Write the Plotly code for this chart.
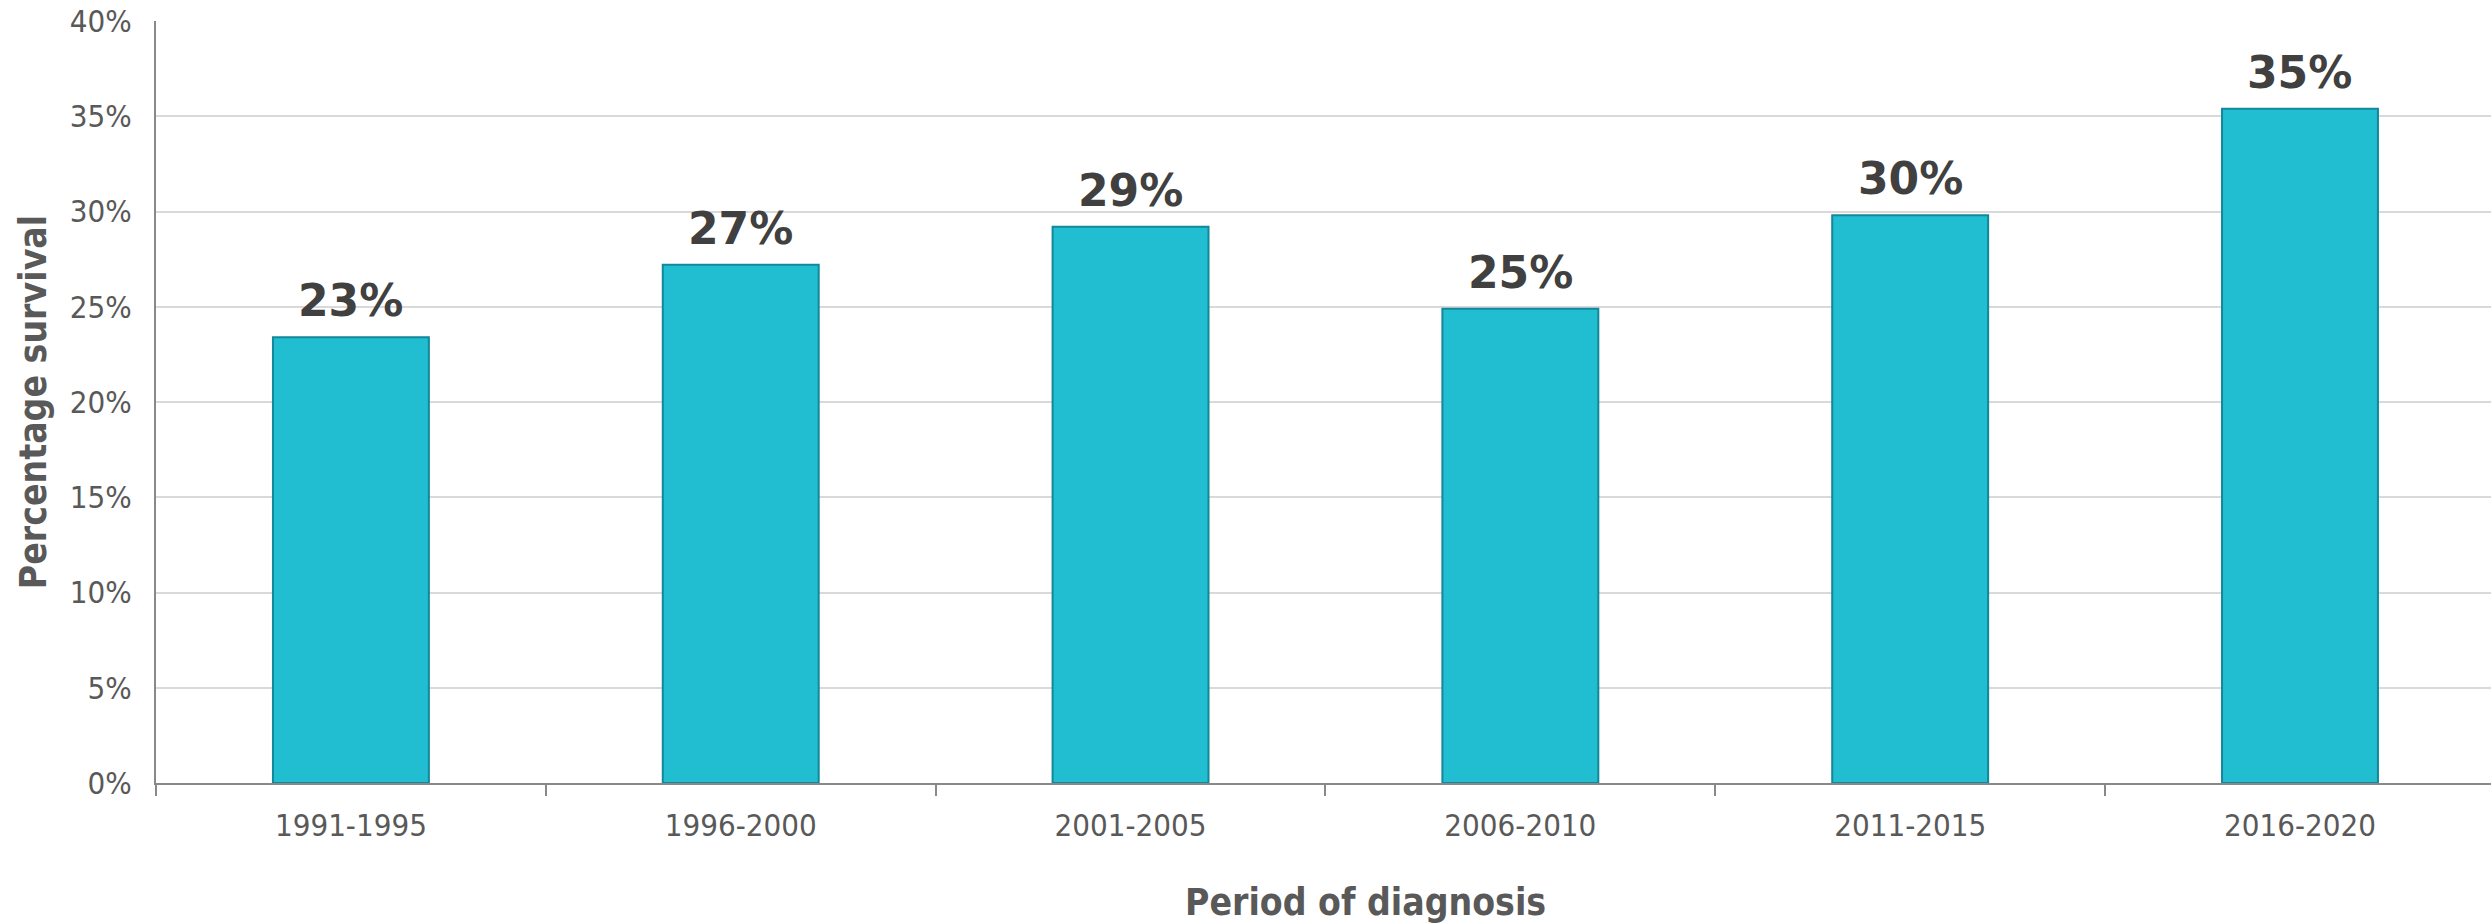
import plotly.graph_objects as go

periods = ["1991-1995", "1996-2000", "2001-2005", "2006-2010", "2011-2015", "2016-2020"]
survival = [23.4, 27.2, 29.2, 24.9, 29.8, 35.4]
labels = ["23%", "27%", "29%", "25%", "30%", "35%"]
y_ticks = [0, 5, 10, 15, 20, 25, 30, 35, 40]
y_tick_text = ["0%", "5%", "10%", "15%", "20%", "25%", "30%", "35%", "40%"]

fig = go.Figure()
fig.add_trace(go.Bar(
    x=periods, y=survival, width=0.4,
    marker=dict(color="#21BDD0", line=dict(color="#12889A", width=2)),
    hoverinfo="skip",
))

for p, v, t in zip(periods, survival, labels):
    fig.add_annotation(x=p, y=v, text=t, showarrow=False, yanchor="bottom", yshift=9,
                       font=dict(family="DejaVu Sans", size=44, color="#404040", weight="bold"))

fig.add_annotation(xref="paper", yref="paper", x=0.518, y=0, yanchor="middle", yshift=-119,
                   text="Period of diagnosis", showarrow=False,
                   font=dict(family="DejaVu Sans Condensed", size=37, color="#595959", weight="bold"))

fig.update_layout(
    width=2491, height=924,
    margin=dict(l=156, r=0, t=21, b=141),
    paper_bgcolor="white", plot_bgcolor="white",
    showlegend=False,
    xaxis=dict(
        type="category", range=[-0.5, 5.49],
        showline=True, linecolor="#898989", linewidth=2,
        ticks="outside", tickson="boundaries", ticklen=11, tickcolor="#898989", tickwidth=2,
        tickfont=dict(family="DejaVu Sans Condensed", size=31, color="#595959"),
        ticklabelstandoff=14,
        showgrid=False,
    ),
    yaxis=dict(
        range=[0, 40],
        tickvals=y_ticks, ticktext=y_tick_text,
        showline=True, linecolor="#898989", linewidth=2,
        showgrid=True, gridcolor="#D9D9D9", gridwidth=2,
        ticks="", ticklabelstandoff=16,
        tickfont=dict(family="DejaVu Sans Condensed", size=31, color="#595959"),
        title=dict(text="Percentage survival", standoff=12,
                   font=dict(family="DejaVu Sans Condensed", size=37, color="#595959", weight="bold")),
        zeroline=False,
    ),
)

fig.write_html("out.html")
